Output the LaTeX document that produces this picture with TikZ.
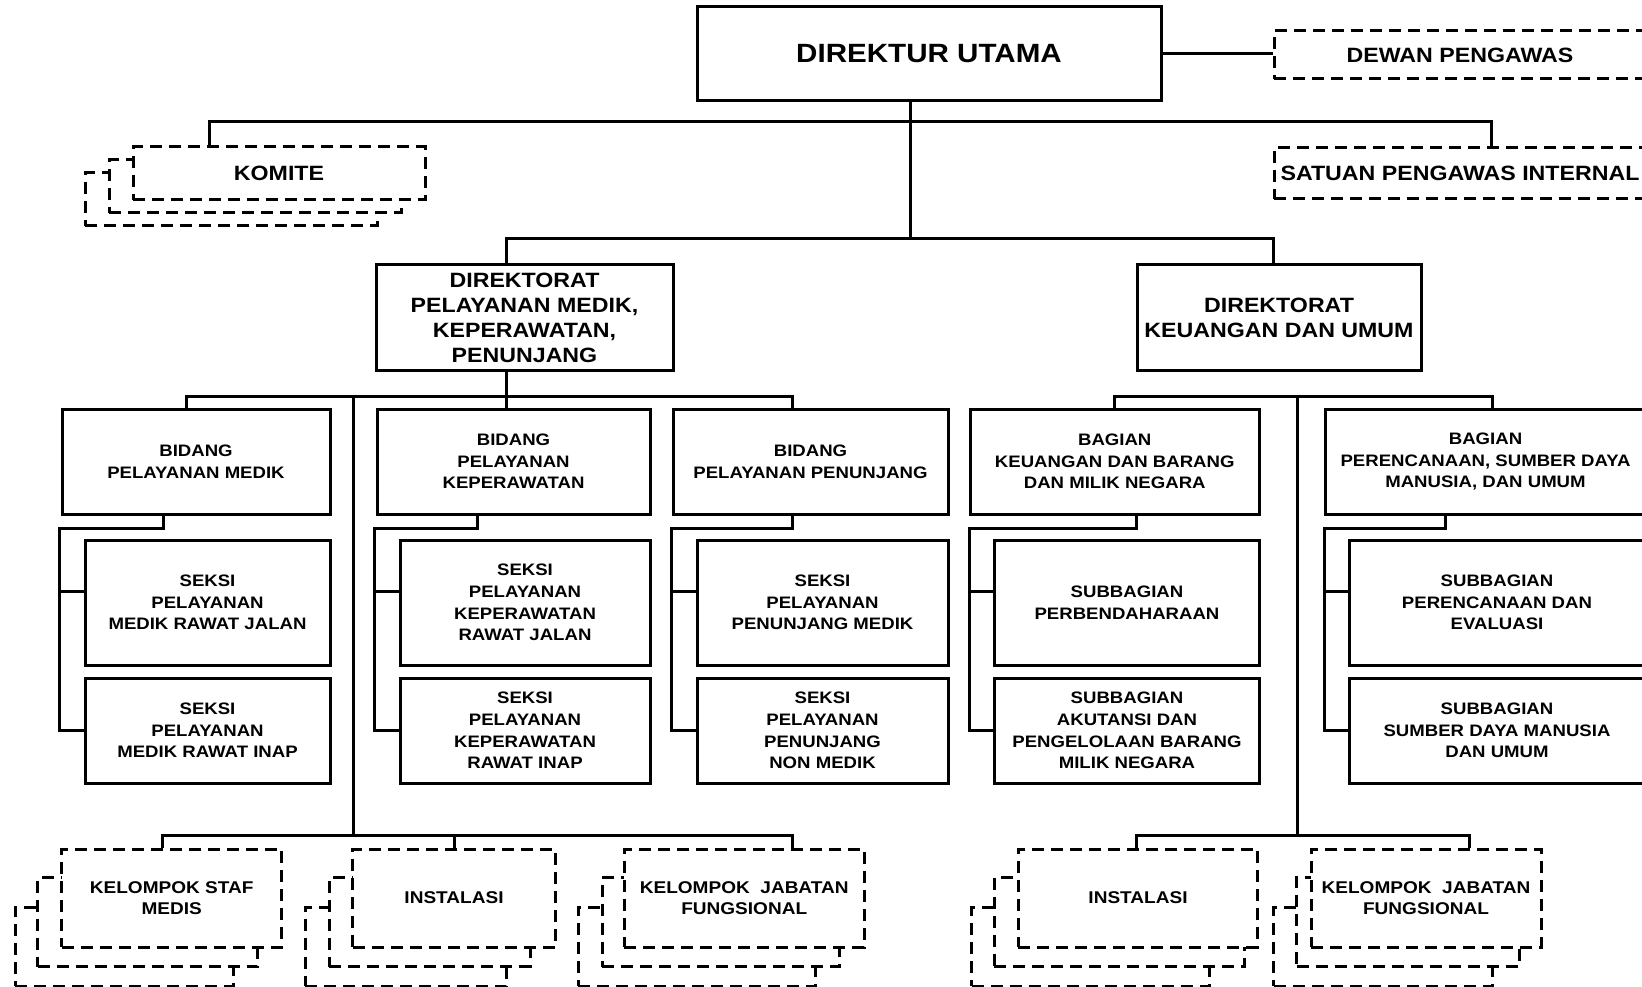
\documentclass[tikz,border=0pt]{standalone}
\usepackage{fontspec}
\newfontfamily\orgfont{Liberation Sans}[FakeStretch=1.12]

\begin{document}
\begin{tikzpicture}[x=1pt,y=-1pt,
  orgline/.style={line width=3pt},
  dashline/.style={dash pattern=on 12pt off 7pt},
  wh/.style 2 args={minimum width=#1pt,minimum height=#2pt},
  unitbox/.style={draw,line width=3pt,fill=white,align=center,inner sep=0pt,
    font=\orgfont\bfseries\fontsize{16.6}{21.7}\selectfont},
  headbox/.style={unitbox,font=\orgfont\bfseries\fontsize{20.7}{25}\selectfont},
  stackbox/.style={unitbox,dashline,font=\orgfont\bfseries\fontsize{17}{21}\selectfont}]
  \path[use as bounding box,fill=white] (0,0) rectangle (1642,987);

  \node[headbox,wh={464}{94},font=\orgfont\bfseries\fontsize{26.4}{30}\selectfont] at (929,54) (dirut) {DIREKTUR UTAMA};
  \node[headbox,dashline,wh={372}{48}] at (1460,55) (dewan) {DEWAN PENGAWAS};
  \node[headbox,dashline,wh={372}{51}] at (1460,173.5) (spi) {SATUAN PENGAWAS INTERNAL};
  \node[headbox,dashline,wh={292}{53}] at (231,199.5) (komite3) {};
  \node[headbox,dashline,wh={292}{53}] at (255,186.5) (komite2) {};
  \node[headbox,dashline,wh={292}{53}] at (279,173.5) (komite) {KOMITE};
  \node[headbox,wh={297}{105}] at (524.5,317.5) (dir1) {DIREKTORAT\\PELAYANAN MEDIK,\\KEPERAWATAN,\\PENUNJANG};
  \node[headbox,wh={284}{105}] at (1279,317.5) (dir2) {DIREKTORAT\\KEUANGAN DAN UMUM};

  \node[unitbox,wh={268}{105}] at (196,461.5) (bid1) {BIDANG\\PELAYANAN MEDIK};
  \node[unitbox,wh={273}{105}] at (513.5,461.5) (bid2) {BIDANG\\PELAYANAN\\KEPERAWATAN};
  \node[unitbox,wh={275}{105}] at (810.5,461.5) (bid3) {BIDANG\\PELAYANAN PENUNJANG};
  \node[unitbox,wh={288.5}{105}] at (1114.75,461.5) (bag1) {BAGIAN\\KEUANGAN DAN BARANG\\DAN MILIK NEGARA};
  \node[unitbox,wh={321}{105}] at (1485.5,461.5) (bag2) {BAGIAN\\PERENCANAAN, SUMBER DAYA\\MANUSIA, DAN UMUM};

  \node[unitbox,wh={245}{125}] at (207.5,602.5) (sek1a) {SEKSI\\PELAYANAN\\MEDIK RAWAT JALAN};
  \node[unitbox,wh={245}{105}] at (207.5,730.5) (sek1b) {SEKSI\\PELAYANAN\\MEDIK RAWAT INAP};
  \node[unitbox,wh={250}{125}] at (525,602.5) (sek2a) {SEKSI\\PELAYANAN\\KEPERAWATAN\\RAWAT JALAN};
  \node[unitbox,wh={250}{105}] at (525,730.5) (sek2b) {SEKSI\\PELAYANAN\\KEPERAWATAN\\RAWAT INAP};
  \node[unitbox,wh={251}{125}] at (822.5,602.5) (sek3a) {SEKSI\\PELAYANAN\\PENUNJANG MEDIK};
  \node[unitbox,wh={251}{105}] at (822.5,730.5) (sek3b) {SEKSI\\PELAYANAN\\PENUNJANG\\NON MEDIK};
  \node[unitbox,wh={264.7}{125}] at (1127,602.5) (sub1a) {SUBBAGIAN\\PERBENDAHARAAN};
  \node[unitbox,wh={264.7}{105}] at (1127,730.5) (sub1b) {SUBBAGIAN\\AKUTANSI DAN\\PENGELOLAAN BARANG\\MILIK NEGARA};
  \node[unitbox,wh={295.5}{125}] at (1497,602.5) (sub2a) {SUBBAGIAN\\PERENCANAAN DAN\\EVALUASI};
  \node[unitbox,wh={295.5}{105}] at (1497,730.5) (sub2b) {SUBBAGIAN\\SUMBER DAYA MANUSIA\\DAN UMUM};

  \node[stackbox,wh={218}{79}] at (124.2,946.6) (staf3) {};
  \node[stackbox,wh={220}{89}] at (147.7,922.2) (staf2) {};
  \node[stackbox,wh={220}{98}] at (171.7,898) (staf) {KELOMPOK STAF\\MEDIS};
  \node[stackbox,wh={201.7}{79}] at (405.9,946.6) (inst3) {};
  \node[stackbox,wh={200.7}{89}] at (429.7,922.2) (inst2) {};
  \node[stackbox,wh={202.6}{98}] at (454,898) (inst) {INSTALASI};
  \node[stackbox,wh={237.4}{79}] at (697,946.6) (jab3) {};
  \node[stackbox,wh={237}{89}] at (720.8,922.2) (jab2) {};
  \node[stackbox,wh={239.7}{98}] at (744.2,898) (jab) {KELOMPOK~~JABATAN\\FUNGSIONAL};
  \node[stackbox,wh={237.6}{79}] at (1090.5,946.6) (instb3) {};
  \node[stackbox,wh={250}{89}] at (1119.3,922.2) (instb2) {};
  \node[stackbox,wh={239.4}{98}] at (1138,898) (instb) {INSTALASI};
  \node[stackbox,wh={218.5}{79}] at (1383,946.6) (jabb3) {};
  \node[stackbox,wh={222.4}{89}] at (1407.8,922.2) (jabb2) {};
  \node[stackbox,wh={230}{98}] at (1426,898) (jabb) {KELOMPOK~~JABATAN\\FUNGSIONAL};

  \coordinate (bustop) at (910.5,121.5);
  \coordinate (busdir) at (910.5,239);
  \coordinate (busmed) at (506,396);
  \coordinate (busfin) at (1297,396);
  \coordinate (busfunL) at (353.6,835);
  \coordinate (busfunR) at (1297,835);

  \draw[orgline] (dirut.east) -- (dirut.east -| dewan.west);
  \draw[orgline] ([xshift=-18.5pt]dirut.south) -- (bustop) -- (busdir);
  \draw[orgline] ([xshift=-70pt]komite.north) |- (bustop) -| ([xshift=31pt]spi.north);
  \draw[orgline] ([xshift=-18.5pt]dir1.north) |- (busdir) -| ([xshift=-6pt]dir2.north);
  \draw[orgline] ([xshift=-18.5pt]dir1.south) -- ([xshift=-7.5pt]bid2.north);
  \draw[orgline] ([xshift=-9.3pt]bid1.north) |- (busmed) -| ([xshift=-18.5pt]bid3.north);
  \draw[orgline] (bag1.north) |- (busfin) -| ([xshift=7pt]bag2.north);

  \draw[orgline] ([xshift=-32.3pt]bid1.south) -- ++(0,12.5) -| ([xshift=-23.7pt]sek1b.west) -- (sek1b.west);
  \draw[orgline] ([yshift=10.8pt]sek1a.west) -- ++(-23.7,0);
  \draw[orgline] ([xshift=-36.5pt]bid2.south) -- ++(0,12.5) -| ([xshift=-23.7pt]sek2b.west) -- (sek2b.west);
  \draw[orgline] ([yshift=10.8pt]sek2a.west) -- ++(-23.7,0);
  \draw[orgline] ([xshift=-18.5pt]bid3.south) -- ++(0,12.5) -| ([xshift=-23.7pt]sek3b.west) -- (sek3b.west);
  \draw[orgline] ([yshift=10.8pt]sek3a.west) -- ++(-23.7,0);
  \draw[orgline] ([xshift=22pt]bag1.south) -- ++(0,12.5) -| ([xshift=-23.7pt]sub1b.west) -- (sub1b.west);
  \draw[orgline] ([yshift=10.8pt]sub1a.west) -- ++(-23.7,0);
  \draw[orgline] ([xshift=-40.5pt]bag2.south) -- ++(0,12.5) -| ([xshift=-23.7pt]sub2b.west) -- (sub2b.west);
  \draw[orgline] ([yshift=10.8pt]sub2a.west) -- ++(-23.7,0);

  \draw[orgline] (busmed -| busfunL) -- (busfunL);
  \draw[orgline] ([xshift=-9.2pt]staf.north) |- (busfunL) -| ([xshift=48pt]jab.north);
  \draw[orgline] (inst.north) -- (inst.north |- busfunL);
  \draw[orgline] (busfin) -- (busfunR);
  \draw[orgline] ([xshift=-1.3pt]instb.north) |- (busfunR) -| ([xshift=43.3pt]jabb.north);
\end{tikzpicture}
\end{document}
